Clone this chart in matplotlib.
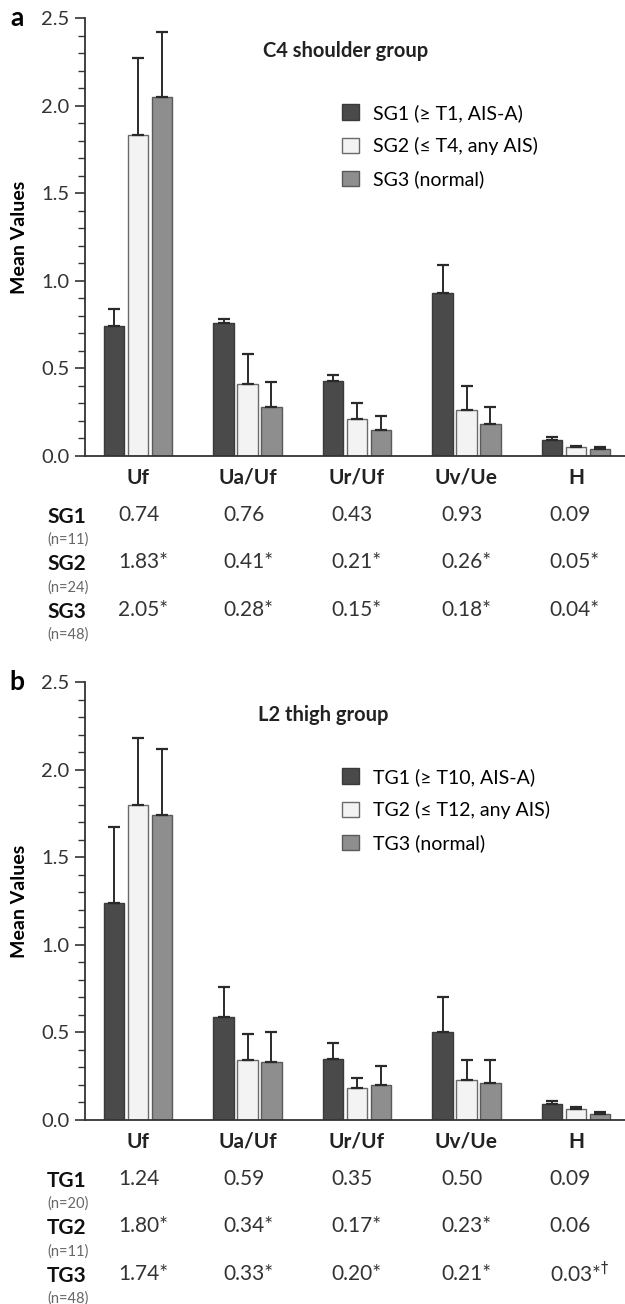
import numpy as np
import matplotlib.pyplot as plt
from matplotlib.patches import Patch
from matplotlib.ticker import MultipleLocator
from matplotlib.transforms import blended_transform_factory

plt.rcParams['font.family'] = ['Lato', 'DejaVu Sans']

# Data
categories = ['Uf', 'Ua/Uf', 'Ur/Uf', 'Uv/Ue', 'H']

sg_names = ['SG1', 'SG2', 'SG3']
sg_n = ['(n=11)', '(n=24)', '(n=48)']
sg_legend = ['SG1 (≥ T1, AIS-A)', 'SG2 (≤ T4, any AIS)', 'SG3 (normal)']
sg_means = [
    [0.74, 0.76, 0.43, 0.93, 0.09],
    [1.83, 0.41, 0.21, 0.26, 0.05],
    [2.05, 0.28, 0.15, 0.18, 0.04],
]
sg_err = [
    [0.10, 0.02, 0.03, 0.16, 0.02],
    [0.44, 0.17, 0.09, 0.14, 0.007],
    [0.37, 0.14, 0.08, 0.10, 0.012],
]
sg_table = [
    ['0.74', '0.76', '0.43', '0.93', '0.09'],
    ['1.83*', '0.41*', '0.21*', '0.26*', '0.05*'],
    ['2.05*', '0.28*', '0.15*', '0.18*', '0.04*'],
]

tg_names = ['TG1', 'TG2', 'TG3']
tg_n = ['(n=20)', '(n=11)', '(n=48)']
tg_legend = ['TG1 (≥ T10, AIS-A)', 'TG2 (≤ T12, any AIS)', 'TG3 (normal)']
tg_means = [
    [1.24, 0.59, 0.35, 0.50, 0.09],
    [1.80, 0.34, 0.18, 0.23, 0.065],
    [1.74, 0.33, 0.20, 0.21, 0.035],
]
tg_err = [
    [0.43, 0.17, 0.09, 0.20, 0.02],
    [0.38, 0.15, 0.06, 0.11, 0.01],
    [0.38, 0.17, 0.11, 0.13, 0.01],
]
tg_table = [
    ['1.24', '0.59', '0.35', '0.50', '0.09'],
    ['1.80*', '0.34*', '0.17*', '0.23*', '0.06'],
    ['1.74*', '0.33*', '0.20*', '0.21*', '0.03*$^{\\dagger}$'],
]

fill_colors = ['#4a4a4a', '#f3f3f3', '#8e8e8e']
edge_colors = ['#3a3a3a', '#6a6a6a', '#5a5a5a']

W, H = 625, 1304
fig = plt.figure(figsize=(W / 100, H / 100), dpi=100)

# group layout in pixels
G0, GSTEP = 138, 109.5


def px(x, y):
    # pixel (from top-left) to figure fraction
    return x / W, 1 - y / H


def draw_panel(y_top, means, errs, legend_labels, title, title_x,
               names, ns, table, letter):
    x0, x1 = 85, 625
    y_bot = y_top + 438
    l, b = px(x0, y_bot)
    ax = fig.add_axes([l, b, (x1 - x0) / W, (y_bot - y_top) / H])
    ax.patch.set_visible(False)
    x = np.arange(len(categories))
    width = 0.187
    offsets = [-0.219, 0, 0.219]
    for i in range(3):
        ax.bar(x + offsets[i], means[i], width, color=fill_colors[i],
               edgecolor=edge_colors[i], linewidth=1.0, zorder=2)
        ax.errorbar(x + offsets[i], means[i],
                    yerr=[np.zeros(len(errs[i])), errs[i]],
                    fmt='none', ecolor='#2a2a2a', elinewidth=1.4,
                    capsize=4.5, capthick=1.6, zorder=3)
    ax.set_xlim((x0 - G0) / GSTEP, (x1 - G0) / GSTEP)
    ax.set_ylim(0, 2.5)
    ax.yaxis.set_major_locator(MultipleLocator(0.5))
    ax.yaxis.set_minor_locator(MultipleLocator(0.1))
    ax.yaxis.set_major_formatter(plt.FuncFormatter(lambda v, p: f'{v:.1f}'))
    ax.tick_params(axis='y', which='major', length=7, width=1.2, labelsize=14.5,
                   colors='#333333', pad=4)
    ax.tick_params(axis='y', which='minor', length=5, width=1.0, colors='#333333')
    ax.tick_params(axis='x', length=0, labelbottom=False)
    for s in ['top', 'right']:
        ax.spines[s].set_visible(False)
    for s in ['left', 'bottom']:
        ax.spines[s].set_color('#333333')
        ax.spines[s].set_linewidth(1.3)
    ax.set_ylabel('Mean Values', fontsize=14, fontweight='bold', labelpad=10)

    ax.text((title_x - x0) / (x1 - x0), (438 - 33) / 438, title,
            transform=ax.transAxes, ha='left', va='center', fontsize=14.5,
            fontweight='bold', color='#222222')

    handles = [Patch(facecolor=fill_colors[i], edgecolor=edge_colors[i])
               for i in range(3)]
    ax.legend(handles, legend_labels, loc='upper left',
              bbox_to_anchor=((342 - x0) / (x1 - x0), (438 - 86) / 438),
              borderaxespad=0, borderpad=0, frameon=False, fontsize=14,
              handlelength=0.85, handleheight=0.85, handletextpad=0.75,
              labelspacing=0.78)

    tr = blended_transform_factory(ax.transData, fig.transFigure)
    for j, c in enumerate(categories):
        ax.text(x[j], px(0, y_bot + 22)[1], c, transform=tr, ha='center',
                va='center', fontsize=15, fontweight='bold', color='#222222')
    col_x = [-0.18, 0.78, 1.77, 2.77, 3.76]
    for i in range(3):
        ry = y_bot + 61 + 47.5 * i
        fig.text(*px(47, ry), names[i], ha='left', va='center',
                 fontsize=15, fontweight='bold', color='#111111')
        fig.text(*px(47, ry + 23), ns[i], ha='left', va='center',
                 fontsize=10.5, color='#666666')
        for j in range(len(categories)):
            ax.text(col_x[j], px(0, ry - 2)[1], table[i][j], transform=tr,
                    ha='left', va='center', fontsize=15, color='#333333')

    fig.text(*px(17, y_top), letter, ha='center', va='center', fontsize=19,
             fontweight='bold')
    return ax


draw_panel(18, sg_means, sg_err, sg_legend, 'C4 shoulder group', 263,
           sg_names, sg_n, sg_table, 'a')
draw_panel(682, tg_means, tg_err, tg_legend, 'L2 thigh group', 258,
           tg_names, tg_n, tg_table, 'b')

fig.savefig('out.png', dpi=100)
